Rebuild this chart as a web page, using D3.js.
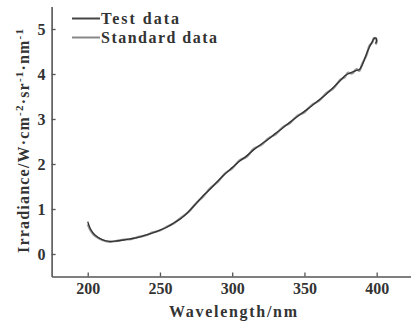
<!DOCTYPE html>
<html><head><meta charset="utf-8">
<script src="https://cdn.jsdelivr.net/npm/d3@7"></script>
<style>
body{margin:0;background:#fff;}
svg text{font-family:"Liberation Serif","Times New Roman",serif;fill:#333;}
</style></head>
<body><svg id="c" width="411" height="327"></svg>
<script>
const wavelengths = [200,202,205,210,215,220,225,230,235,240,245,250,255,260,265,270,275,280,285,290,295,300,305,310,315,320,325,330,335,340,345,350,355,360,365,370,375,378,380,383,386,388,390,393,395,397,398,399.5,400,399.2];
const testData = [0.72,0.55,0.42,0.32,0.28,0.29,0.31,0.34,0.37,0.42,0.47,0.53,0.60,0.70,0.80,0.95,1.12,1.30,1.45,1.62,1.78,1.92,2.06,2.18,2.32,2.44,2.55,2.68,2.80,2.93,3.05,3.17,3.29,3.42,3.55,3.70,3.86,3.96,4.00,4.04,4.08,4.10,4.20,4.45,4.60,4.72,4.78,4.80,4.74,4.68];
const standardData = [0.66,0.52,0.40,0.31,0.27,0.29,0.32,0.33,0.38,0.41,0.48,0.52,0.61,0.69,0.82,0.94,1.13,1.28,1.47,1.60,1.79,1.90,2.08,2.16,2.34,2.42,2.57,2.66,2.82,2.91,3.07,3.15,3.31,3.40,3.57,3.68,3.88,3.93,4.03,4.01,4.11,4.07,4.23,4.42,4.63,4.70,4.80,4.77,4.71,4.66];
const xTicks = [200,250,300,350,400];
const yTicks = [0,1,2,3,4,5];
const seriesNames = ["Test data","Standard data"];
const seriesColors = ["#333","#999"];

const svg = d3.select("#c");
const x = d3.scaleLinear().domain([175,425]).range([51.6,412.8]);
const y = d3.scaleLinear().domain([-0.5,5.5]).range([276.5,6.5]);

const axisColor = "#555";
// x axis
const gx = svg.append("g").attr("transform",`translate(0,${y(-0.5)})`)
  .call(d3.axisBottom(x).tickValues(xTicks).tickFormat(d3.format("d")).tickSizeInner(-4).tickSizeOuter(0));
gx.select(".domain").attr("stroke",axisColor).attr("stroke-width",1.6);
gx.selectAll(".tick line").attr("stroke",axisColor).attr("stroke-width",1.3);
gx.selectAll(".tick text").attr("font-size",16).attr("font-weight","bold").attr("fill","#444")
  .attr("dy","0.75em").attr("y",5);

// y axis
const gy = svg.append("g").attr("transform",`translate(${x(175)},0)`)
  .call(d3.axisLeft(y).tickValues(yTicks).tickFormat(d3.format("d")).tickSizeInner(-4).tickSizeOuter(0));
gy.select(".domain").attr("stroke",axisColor).attr("stroke-width",1.6);
gy.selectAll(".tick line").attr("stroke",axisColor).attr("stroke-width",1.3);
gy.selectAll(".tick text").attr("font-size",16).attr("font-weight","bold").attr("fill","#444")
  .attr("x",-6);

// lines
const line = d3.line().x((d,i)=>x(wavelengths[i])).y(d=>y(d)).curve(d3.curveCatmullRom);
svg.append("path").datum(standardData).attr("d",line).attr("fill","none")
  .attr("stroke",seriesColors[1]).attr("stroke-width",2.2);
svg.append("path").datum(testData).attr("d",line).attr("fill","none")
  .attr("stroke",seriesColors[0]).attr("stroke-width",1.4);

// legend
const lg = svg.append("g");
seriesNames.forEach((n,i)=>{
  const yy = 18.5 + i*19;
  lg.append("line").attr("x1",72).attr("x2",100).attr("y1",yy).attr("y2",yy)
    .attr("stroke",i===0?"#444":"#888").attr("stroke-width",2);
  lg.append("text").attr("x",101).attr("y",yy+5).attr("font-size",16).attr("font-weight","bold")
    .attr("fill","#444").attr("textLength",i===0?78:116).attr("lengthAdjust","spacing").text(n);
});

// axis titles
svg.append("text").attr("x",233).attr("y",317).attr("text-anchor","middle")
  .attr("font-size",16).attr("font-weight","bold").attr("fill","#444")
  .attr("textLength",128).attr("lengthAdjust","spacing").text("Wavelength/nm");

const yl = svg.append("text").attr("transform","translate(29,141) rotate(-90)")
  .attr("text-anchor","middle").attr("font-size",16).attr("font-weight","bold").attr("fill","#444")
  .attr("textLength",224).attr("lengthAdjust","spacing");
yl.append("tspan").text("Irradiance/W·cm");
yl.append("tspan").attr("dy",-6).attr("font-size",11).text("-2");
yl.append("tspan").attr("dy",6).text("·sr");
yl.append("tspan").attr("dy",-6).attr("font-size",11).text("-1");
yl.append("tspan").attr("dy",6).text("·nm");
yl.append("tspan").attr("dy",-6).attr("font-size",11).text("-1");
</script></body></html>
